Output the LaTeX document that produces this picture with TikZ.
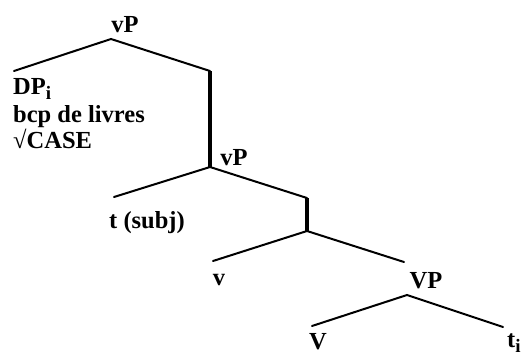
\documentclass[tikz,border=0pt]{standalone}
\usepackage{fontspec}
\setmainfont{Liberation Serif}
\newcommand{\lowsub}[1]{\raisebox{-0.22em}{\fontsize{19}{19}\selectfont #1}}
\begin{document}
\begin{tikzpicture}[x=1pt,y=-1pt,
  lbl/.style={inner sep=0pt,font=\fontsize{24.5}{27}\selectfont\bfseries},
  branch/.style={line width=2pt,line cap=round},
  spine/.style={line width=3.5pt}]
\useasboundingbox (0,0) rectangle (522,356);
% branch points and leaf ends
\coordinate (top) at (111,39);
\coordinate (topL) at (14,71);
\coordinate (topR) at (210,71);
\coordinate (mid) at (210,167);
\coordinate (midL) at (114,197);
\coordinate (midR) at (307,198);
\coordinate (low) at (307,231);
\coordinate (lowL) at (213,261);
\coordinate (lowR) at (404,262);
\coordinate (vp) at (407,295);
\coordinate (vpL) at (312,326);
\coordinate (vpR) at (503,327);
% labels
\node[lbl,anchor=base] (l1) at (125,32) {vP};
\node[lbl,anchor=base west] (dp) at (13,94) {DP\lowsub{i}};
\node[lbl,anchor=base west] (bcp) at (13,122) {bcp de\ livres};
\node[lbl,anchor=base west] (case) at (13,148) {√CASE};
\node[lbl,anchor=base] (l2) at (234,165) {vP};
\node[lbl,anchor=base] (subj) at (147,228) {t (subj)};
\node[lbl,anchor=base] (v) at (219,285) {v};
\node[lbl,anchor=base] (l3) at (426,288) {VP};
\node[lbl,anchor=base] (V) at (318,349) {V};
\node[lbl,anchor=base west] (t) at (507,347) {t\lowsub{i}};
% tree lines
\draw[branch] (topL) -- (top) -- (topR);
\draw[spine] (topR) -- (mid);
\draw[branch] (midL) -- (mid) -- (midR);
\draw[spine] (midR) -- (low);
\draw[branch] (lowL) -- (low) -- (lowR);
\draw[branch] (vpL) -- (vp) -- (vpR);
\end{tikzpicture}
\end{document}
